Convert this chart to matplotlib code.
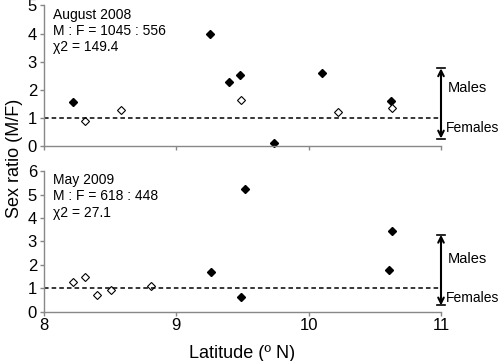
import numpy as np
import matplotlib
matplotlib.use("Agg")
import matplotlib.pyplot as plt

plt.rcParams['font.family'] = ['Liberation Sans', 'DejaVu Sans']

# August 2008
aug_male_lat = [8.22, 9.255, 9.40, 9.48, 9.74, 10.10, 10.62]
aug_male_ratio = [1.57, 3.98, 2.29, 2.51, 0.11, 2.59, 1.61]
aug_open_lat = [8.31, 8.58, 9.49, 10.22, 10.63]
aug_open_ratio = [0.87, 1.27, 1.63, 1.21, 1.33]

# May 2009
may_male_lat = [9.26, 9.49, 9.52, 10.63, 10.61]
may_male_ratio = [1.71, 0.64, 5.24, 3.42, 1.79]
may_open_lat = [8.217, 8.31, 8.40, 8.51, 8.81]
may_open_ratio = [1.28, 1.47, 0.70, 0.94, 1.11]

labels = [["August 2008", "M : F = 1045 : 556", "χ2 = 149.4"],
          ["May 2009", "M : F = 618 : 448", "χ2 = 27.1"]]

fig = plt.figure(figsize=(5, 3.61), dpi=100)
ax1 = fig.add_axes([0.088, 0.596, 0.794, 0.389])
ax2 = fig.add_axes([0.088, 0.137, 0.794, 0.389])

# (axes, filled x, filled y, open x, open y, ymax, arrow ends, Males y, Females y)
panels = [(ax1, aug_male_lat, aug_male_ratio, aug_open_lat, aug_open_ratio, 5, (2.76, 0.26), 2.06, 0.64),
          (ax2, may_male_lat, may_male_ratio, may_open_lat, may_open_ratio, 6, (3.28, 0.26), 2.25, 0.60)]

for k, (ax, ml, mr, ol, orr, ymax, arr, my, fy) in enumerate(panels):
    ax.plot(ml, mr, 'D', color='black', markersize=4.5, clip_on=False)
    ax.plot(ol, orr, 'D', markerfacecolor='white', markeredgecolor='black',
            markeredgewidth=0.8, markersize=4.5, clip_on=False)
    ax.plot([8, 11], [1, 1], '--', color='black', lw=1.1, dashes=(3, 2))
    ax.set_xlim(8, 11)
    ax.set_ylim(0, ymax)
    ax.set_yticks(range(ymax + 1))
    ax.set_xticks([8, 9, 10, 11])
    for s in ['top', 'right']:
        ax.spines[s].set_visible(False)
    for s in ['left', 'bottom']:
        ax.spines[s].set_color('#888888')
        ax.spines[s].set_linewidth(1.0)
    ax.tick_params(colors='#888888', labelcolor='black', labelsize=12,
                   length=3, width=1.0, pad=2)
    ax.annotate('', xy=(11, arr[0]), xytext=(11, arr[1]),
                arrowprops=dict(arrowstyle='<->', color='black', lw=1.5,
                                shrinkA=0, shrinkB=0, mutation_scale=10),
                annotation_clip=False)
    for yv in arr:
        ax.plot([10.97, 11.03], [yv, yv], color='black', lw=1.2, clip_on=False)
    ax.text(11.05, my, 'Males', fontsize=10.5, va='center', ha='left')
    ax.text(11.035, fy, 'Females', fontsize=10, va='center', ha='left')
    ax.text(0.023, 0.985, "\n".join(labels[k]), transform=ax.transAxes,
            fontsize=10, va='top', ha='left', linespacing=1.2)

ax1.set_xticklabels([])
ax2.set_xlabel('Latitude (º N)', fontsize=13, labelpad=8)
fig.text(0.03, 0.56, 'Sex ratio (M/F)', rotation=90, fontsize=13, va='center', ha='center')

fig.savefig('out.png', dpi=100)
